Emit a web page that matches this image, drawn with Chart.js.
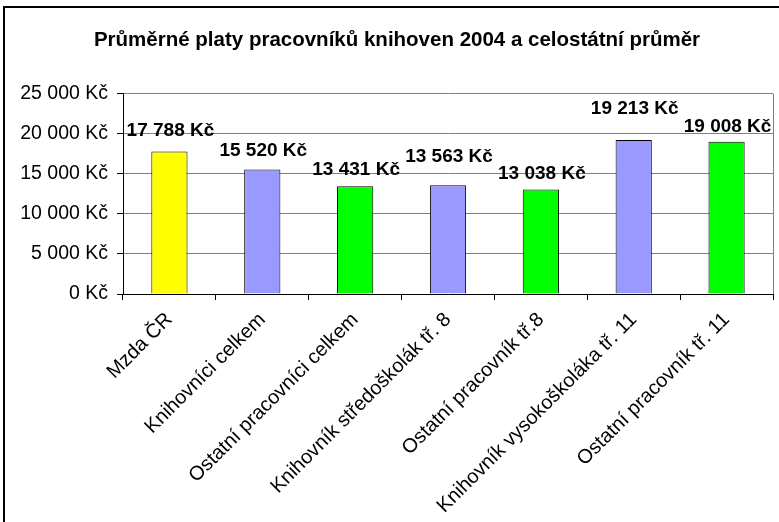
<!DOCTYPE html>
<html>
<head>
<meta charset="utf-8">
<script src="https://cdn.jsdelivr.net/npm/chart.js@4"></script>
<style>
  html, body { margin: 0; padding: 0; background: #fff; overflow: hidden; }
  #frame {
    position: absolute; left: 3px; top: 6px;
    width: 800px; height: 540px;
    border: 2px solid #000;
  }
  #salaryChart { display: block; }
</style>
</head>
<body>
<div id="frame">
  <canvas id="salaryChart" width="780" height="520"></canvas>
</div>
<script>
// Data
const categories = [
  'Mzda ČR',
  'Knihovníci celkem',
  'Ostatní pracovníci celkem',
  'Knihovník středoškolák tř. 8',
  'Ostatní pracovník tř.8',
  'Knihovník vysokoškoláka tř. 11',
  'Ostatní pracovník tř. 11'
];
const salaries = [17788, 15520, 13431, 13563, 13038, 19213, 19008];
const yTicks = [0, 5000, 10000, 15000, 20000, 25000];

// Styling
const barColors = ['#FFFF00', '#9999FF', '#00FF00', '#9999FF', '#00FF00', '#9999FF', '#00FF00'];
const labelLift = [15, 14, 11, 23, 10, 26, 10];
const fontFamily = '"Liberation Sans", Arial, sans-serif';

function kc(v) {
  return String(v).replace(/\B(?=(\d{3})+(?!\d))/g, ' ') + ' Kč';
}

const valueLabels = {
  id: 'valueLabels',
  afterDatasetsDraw(chart) {
    const ctx = chart.ctx;
    const meta = chart.getDatasetMeta(0);
    ctx.save();
    ctx.font = 'bold 19px ' + fontFamily;
    ctx.fillStyle = '#000';
    ctx.textAlign = 'center';
    ctx.textBaseline = 'alphabetic';
    meta.data.forEach((bar, i) => {
      ctx.fillText(kc(salaries[i]), bar.x + 1, bar.y - labelLift[i]);
    });
    ctx.restore();
  }
};

const plotBorder = {
  id: 'plotBorder',
  beforeDatasetsDraw(chart) {
    const a = chart.chartArea;
    const ctx = chart.ctx;
    ctx.save();
    ctx.strokeStyle = '#808080';
    ctx.lineWidth = 1;
    ctx.beginPath();
    ctx.moveTo(a.right + 0.5, a.top);
    ctx.lineTo(a.right + 0.5, a.bottom);
    ctx.stroke();
    ctx.restore();
  }
};

document.addEventListener("DOMContentLoaded", () => {
  const ctx = document.getElementById('salaryChart');
  new Chart(ctx, {
    type: 'bar',
    data: {
      labels: categories,
      datasets: [{
        data: salaries,
        backgroundColor: barColors,
        borderColor: '#000',
        borderWidth: 1,
        barPercentage: 0.39,
        categoryPercentage: 1
      }]
    },
    options: {
      responsive: false,
      animation: false,
      devicePixelRatio: 1,
      layout: { padding: { left: 16, right: 12, top: 0, bottom: 0 } },
      plugins: {
        legend: { display: false },
        tooltip: { enabled: false },
        title: {
          display: true,
          text: 'Průměrné platy pracovníků knihoven 2004 a celostátní průměr',
          color: '#000',
          font: { family: fontFamily, size: 20.5, weight: 'bold' },
          padding: { top: 20, bottom: 41 }
        }
      },
      scales: {
        x: {
          offset: true,
          border: { color: '#000', width: 1 },
          grid: {
            offset: true,
            drawOnChartArea: false,
            tickColor: '#000',
            tickLength: 6
          },
          ticks: {
            color: '#000',
            autoSkip: false,
            maxRotation: 45,
            minRotation: 45,
            padding: 8,
            font: { family: fontFamily, size: 20 }
          },
          afterFit(scale) { scale.height = 234; }
        },
        y: {
          min: 0,
          max: 25000,
          border: { color: '#000', width: 1 },
          grid: {
            color: '#808080',
            tickColor: '#000',
            tickLength: 6
          },
          afterBuildTicks(scale) {
            scale.ticks = yTicks.map(v => ({ value: v }));
          },
          ticks: {
            color: '#000',
            padding: 9,
            font: { family: fontFamily, size: 19.5 },
            callback: v => kc(v)
          },
          afterFit(scale) { scale.width = 102; }
        }
      }
    },
    plugins: [valueLabels, plotBorder]
  });
});
</script>
</body>
</html>
